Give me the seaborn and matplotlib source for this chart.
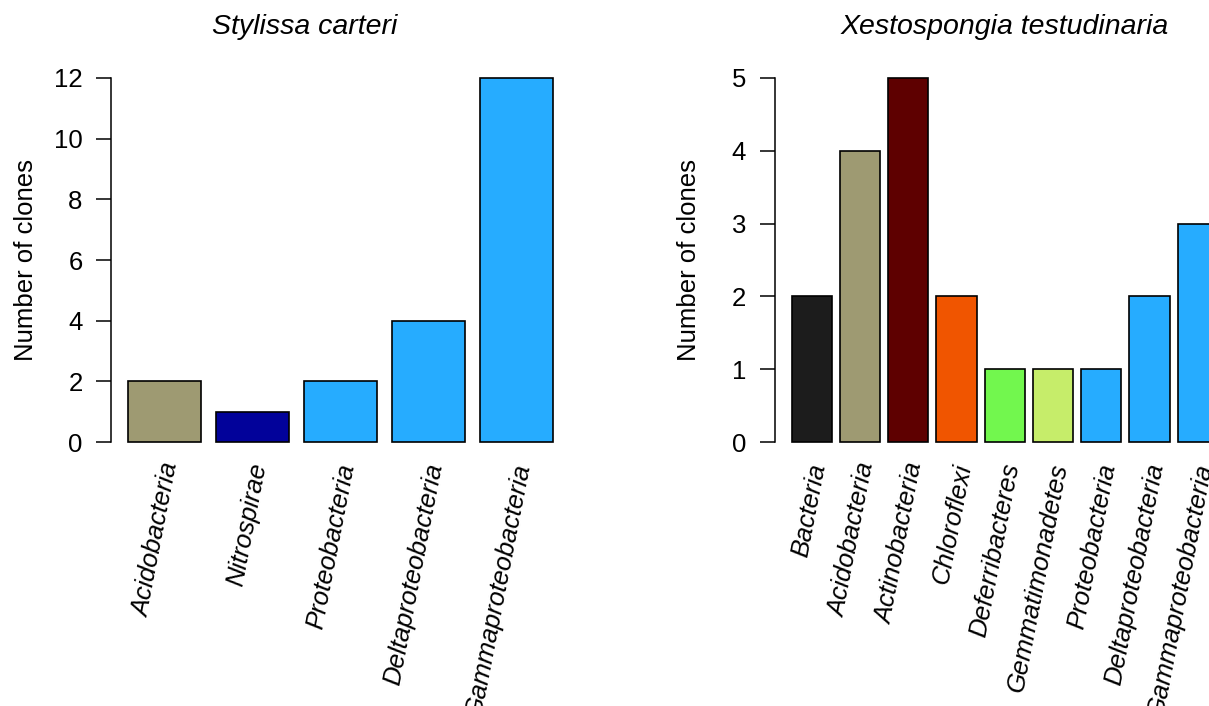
import matplotlib
matplotlib.use("Agg")
import matplotlib.pyplot as plt
import matplotlib.transforms as mtransforms
import seaborn as sns
import pandas as pd

# ---- data ----
left_title = "Stylissa carteri"
left_categories = ["Acidobacteria", "Nitrospirae", "Proteobacteria",
                   "Deltaproteobacteria", "Gammaproteobacteria"]
left_values = [2, 1, 2, 4, 12]
left_colors = ["#9E9A72", "#02029A", "#26ACFF", "#26ACFF", "#26ACFF"]
left_yticks = [0, 2, 4, 6, 8, 10, 12]

right_title = "Xestospongia testudinaria"
right_categories = ["Bacteria", "Acidobacteria", "Actinobacteria", "Chloroflexi",
                    "Deferribacteres", "Gemmatimonadetes", "Proteobacteria",
                    "Deltaproteobacteria", "Gammaproteobacteria"]
right_values = [2, 4, 5, 2, 1, 1, 1, 2, 3]
right_colors = ["#1C1C1C", "#9E9A72", "#5E0000", "#F05500", "#72F74E",
                "#C6ED6A", "#26ACFF", "#26ACFF", "#26ACFF"]
right_yticks = [0, 1, 2, 3, 4, 5]

ylabel = "Number of clones"

sns.set_style("white")
plt.rcParams["font.family"] = ["Liberation Sans", "DejaVu Sans"]
for k in ["text.color", "axes.labelcolor", "xtick.color", "ytick.color",
          "axes.edgecolor"]:
    plt.rcParams[k] = "black"

W, H = 1209, 706
fig = plt.figure(figsize=(W / 100, H / 100), dpi=100)

FS = 18.5


def panel(rect, cats, vals, cols, yticks, title, title_x, xlim):
    ax = fig.add_axes(rect)
    df = pd.DataFrame({"cat": cats, "val": vals})
    sns.barplot(data=df, x="cat", y="val", hue="cat", palette=cols,
                order=cats, hue_order=cats, legend=False, width=1 / 1.2,
                edgecolor="black", linewidth=1.2, saturation=1, ax=ax,
                errorbar=None)
    ymax = yticks[-1]
    pad = 0.04 * ymax
    ax.set_ylim(-pad, ymax + pad)
    ax.set_xlim(*xlim)
    for s in ["top", "right", "bottom"]:
        ax.spines[s].set_visible(False)
    ax.spines["left"].set_bounds(0, ymax)
    ax.spines["left"].set_linewidth(1.1)
    ax.spines["left"].set_color("black")
    ax.set_yticks(yticks)
    ax.set_yticklabels([str(t) for t in yticks])
    ax.tick_params(axis="y", length=10.5, width=1.1, pad=10, labelsize=FS,
                   left=True, color="black", labelcolor="black")
    ax.set_xticks(range(len(cats)))
    ax.set_xticklabels(cats, rotation=79, ha="right", va="center",
                       rotation_mode="anchor", fontstyle="italic", fontsize=FS,
                       color="black")
    ax.tick_params(axis="x", length=0, pad=5)
    shift = mtransforms.ScaledTranslation(7 / 100, 0, fig.dpi_scale_trans)
    for lab in ax.get_xticklabels():
        lab.set_transform(lab.get_transform() + shift)
    ax.set_xlabel("")
    ax.set_ylabel(ylabel, fontsize=FS, va="center", color="black")
    ax.yaxis.set_label_coords(-0.185, 0.5)
    ax.text(title_x, 1.0916, title, transform=ax.transAxes, ha="center",
            va="center", fontsize=20.5, fontstyle="italic", color="black")
    ax.grid(False)
    return ax


bottom = (H - 456.6) / H
height = 393.2 / H
panel([111 / W, bottom, 459 / W, height], left_categories, left_values,
      left_colors, left_yticks, left_title, 0.423, (-0.61, 4.61))
panel([774.6 / W, bottom, 460.4 / W, height], right_categories, right_values,
      right_colors, right_yticks, right_title, 0.5, (-0.77, 8.77))

fig.savefig("out.png", dpi=100)
